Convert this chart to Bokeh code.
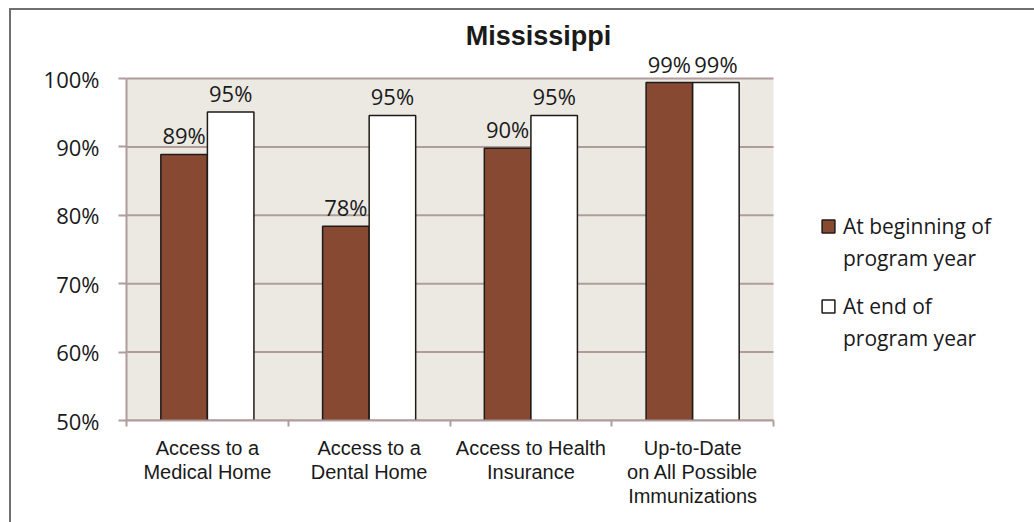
from bokeh.plotting import figure
from bokeh.models import (ColumnDataSource, FixedTicker, PrintfTickFormatter,
                          Legend, LegendItem, Range1d, BoxAnnotation, Label)
from bokeh.core.properties import value
from bokeh.embed import file_html
from bokeh.resources import INLINE

# ---- data ----
title = "Mississippi"
categories = ["Access to a\nMedical Home", "Access to a\nDental Home",
              "Access to Health\nInsurance", "Up-to-Date\non All Possible\nImmunizations"]
beginning = [88.9, 78.4, 89.8, 99.4]
end = [95.1, 94.6, 94.6, 99.4]
series_lines = [["At beginning of", "program year"], ["At end of", "program year"]]
y_ticks = [50, 60, 70, 80, 90, 100]

BROWN = "#884932"
GRID = "#B09C9C"
BG = "#ECE9E3"
DARK = "#1E1A17"
TXT = "#1a1a1a"

n = len(categories)
y_lo, y_hi = y_ticks[0], y_ticks[-1]

# layout (pixels)
W, H = 1023, 512
LEFT, BOTTOM = 115, 102
FW, FH = W - LEFT, H - BOTTOM
PX_X = 647 / n            # pixels per category
PX_Y = 342 / (y_hi - y_lo)  # pixels per percentage point

centers = [i + 0.5 for i in range(n)]
off = 0.144
bw = 0.2875

src_b = ColumnDataSource(dict(x=[c - off for c in centers], top=beginning,
                              lbl=[f"{int(v + 0.5)}%" for v in beginning]))
src_e = ColumnDataSource(dict(x=[c + off for c in centers], top=end,
                              lbl=[f"{int(v + 0.5)}%" for v in end]))

p = figure(frame_width=FW, frame_height=FH,
           min_border_left=LEFT, min_border_right=0,
           min_border_top=0, min_border_bottom=BOTTOM,
           x_range=Range1d(0, FW / PX_X), y_range=Range1d(y_lo, y_lo + FH / PX_Y),
           output_backend="svg", toolbar_location=None)
p.styles = {"margin-left": "9px", "margin-top": "8px",
            "border-top": "2px solid #707070", "border-left": "2px solid #707070"}

p.background_fill_color = "white"
p.border_fill_color = "white"
p.outline_line_color = None

# plot-area background
p.add_layout(BoxAnnotation(left=0, right=n, bottom=y_lo, top=y_hi,
                           fill_color=BG, fill_alpha=1, line_color=None, level="image"))
# horizontal gridlines
p.segment(x0=[0] * len(y_ticks), x1=[n] * len(y_ticks), y0=y_ticks, y1=y_ticks,
          line_color=GRID, line_width=2, level="underlay")

rb = p.vbar(x="x", top="top", bottom=y_lo, width=bw, source=src_b,
            fill_color=BROWN, line_color=DARK, line_width=1.5)
re_ = p.vbar(x="x", top="top", bottom=y_lo, width=bw, source=src_e,
             fill_color="white", line_color=DARK, line_width=1.5)
dummy = p.vbar(x=[], top=[], width=bw, fill_alpha=0, line_alpha=0)

for s in (src_b, src_e):
    p.text(x="x", y="top", text="lbl", source=s, text_align="center",
           text_baseline="bottom", y_offset=-4,
           text_font=value("Open Sans"), text_font_size="22px", text_color=TXT)

# title
p.add_layout(Label(x=412, y=385, x_units="screen", y_units="screen", text=title,
                   text_align="center", text_baseline="middle",
                   text_font="Liberation Sans", text_font_size="27px",
                   text_font_style="bold", text_color=TXT))

# y axis
p.yaxis.bounds = (y_lo, y_hi)
p.yaxis.ticker = FixedTicker(ticks=y_ticks)
p.yaxis.formatter = PrintfTickFormatter(format="%d%%")
p.yaxis.axis_line_color = GRID
p.yaxis.axis_line_width = 2
p.yaxis.major_tick_line_color = GRID
p.yaxis.major_tick_line_width = 2
p.yaxis.major_tick_out = 8
p.yaxis.major_tick_in = 0
p.yaxis.minor_tick_line_color = None
p.yaxis.major_label_standoff = 19
p.yaxis.major_label_text_font = "Open Sans"
p.yaxis.major_label_text_font_size = "22px"
p.yaxis.major_label_text_color = TXT

# x axis
p.xaxis.bounds = (0, n)
p.xaxis.ticker = FixedTicker(ticks=centers, minor_ticks=list(range(n + 1)))
p.xaxis.major_label_overrides = {c: lab for c, lab in zip(centers, categories)}
p.xaxis.axis_line_color = GRID
p.xaxis.axis_line_width = 2
p.xaxis.major_tick_line_color = None
p.xaxis.major_tick_out = 0
p.xaxis.major_tick_in = 0
p.xaxis.minor_tick_line_color = GRID
p.xaxis.minor_tick_line_width = 2
p.xaxis.minor_tick_out = 6
p.xaxis.minor_tick_in = 0
p.xaxis.major_label_standoff = 10
p.xaxis.major_label_text_font = "Liberation Sans"
p.xaxis.major_label_text_font_size = "20px"
p.xaxis.major_label_text_color = TXT
p.xaxis.major_label_text_line_height = 1.1

p.xgrid.grid_line_color = None
p.ygrid.grid_line_color = None


def make_legend(lines, rend, loc):
    lg = Legend(items=[LegendItem(label=lines[0], renderers=[rend]),
                       LegendItem(label=lines[1], renderers=[dummy])],
                location=loc)
    lg.margin = 0
    lg.padding = 0
    lg.spacing = 4
    lg.border_line_color = None
    lg.background_fill_color = None
    lg.glyph_width = 16
    lg.glyph_height = 16
    lg.label_standoff = 7
    lg.label_text_font = "Open Sans"
    lg.label_text_font_size = "21px"
    lg.label_text_color = TXT
    lg.label_height = 16
    return lg


p.add_layout(make_legend(series_lines[0], rb, (694, 148)))
p.add_layout(make_legend(series_lines[1], re_, (694, 68)))

open("out.html", "w").write(file_html(p, INLINE))
